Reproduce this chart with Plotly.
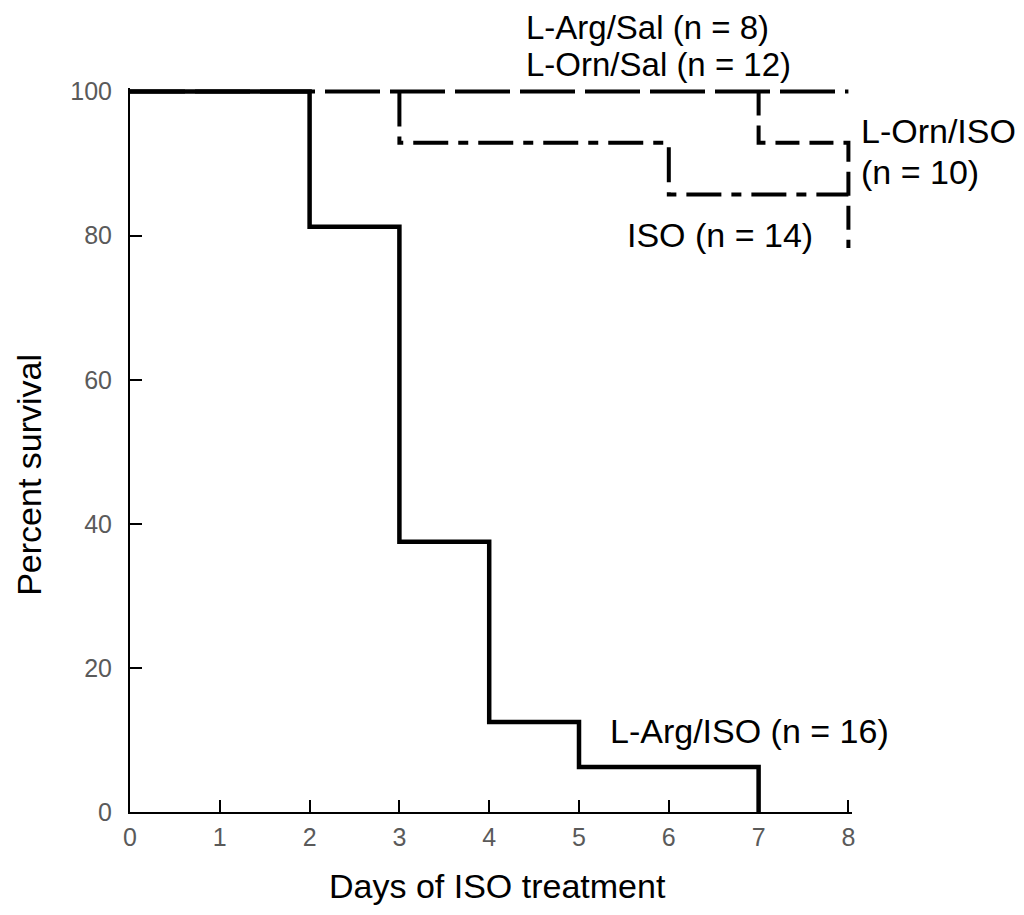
import plotly.graph_objects as go

# Kaplan-Meier style survival data (days, percent survival after each event)
days_arg_iso = [0, 2, 3, 4, 5, 7]
surv_arg_iso = [100, 81.25, 37.5, 12.5, 6.25, 0]

days_sal = [0, 8]
surv_sal = [100, 100]

days_iso = [0, 3, 6, 8]
surv_iso = [100, 92.9, 85.7, 85.7]

days_orn_iso = [0, 7, 8, 8]
surv_orn_iso = [100, 92.9, 92.9, 78.3]

x_ticks = [0, 1, 2, 3, 4, 5, 6, 7, 8]
y_ticks = [0, 20, 40, 60, 80, 100]

FONT = "Liberation Sans, Arial, Helvetica, sans-serif"
X_RANGE = [0, 8.04]
Y_RANGE = [0, 100.5]


def from_first_drop(days, surv):
    # start the drawn path where the curve first leaves 100 %
    return [days[1]] + days[1:], [surv[0]] + surv[1:]


def xp(x):
    return (x - X_RANGE[0]) / (X_RANGE[1] - X_RANGE[0])


def yp(y):
    return (y - Y_RANGE[0]) / (Y_RANGE[1] - Y_RANGE[0])


fig = go.Figure()

fig.add_trace(go.Scatter(x=days_sal, y=surv_sal, mode="lines", line_shape="hv",
                         line=dict(color="black", width=4, dash="55px,10px"),
                         showlegend=False))

xo, yo = from_first_drop(days_orn_iso, surv_orn_iso)
fig.add_trace(go.Scatter(x=xo, y=yo, mode="lines", line_shape="hv",
                         line=dict(color="black", width=4, dash="24px,10px"),
                         showlegend=False))

xi, yi = from_first_drop(days_iso, surv_iso)
fig.add_trace(go.Scatter(x=xi, y=yi, mode="lines", line_shape="hv",
                         line=dict(color="black", width=4, dash="35px,10px,10px,10px"),
                         showlegend=False))

fig.add_trace(go.Scatter(x=days_arg_iso, y=surv_arg_iso, mode="lines", line_shape="hv",
                         line=dict(color="black", width=4.5),
                         showlegend=False))

ann_font = dict(family=FONT, size=34, color="black")
top_font = dict(family=FONT, size=33, color="black")
labels = [
    (4.40, 108.9, "L-Arg/Sal (n = 8)", top_font),
    (4.40, 103.7, "L-Orn/Sal (n = 12)", top_font),
    (8.13, 94.6, "L-Orn/ISO", ann_font),
    (8.13, 88.9, "(n = 10)", ann_font),
    (5.52, 80.1, "ISO (n = 14)", ann_font),
    (5.33, 11.25, "L-Arg/ISO (n = 16)", ann_font),
]
annotations = [
    dict(x=xp(x), y=yp(y), text=t, xref="paper", yref="paper", xanchor="left",
         yanchor="middle", showarrow=False, font=f, borderpad=0)
    for x, y, t, f in labels
]
annotations.append(dict(x=-0.141, y=0.466, xref="paper", yref="paper", text="Percent survival",
                        textangle=-90, showarrow=False, xanchor="center", yanchor="middle",
                        font=ann_font))
annotations.append(dict(x=0.509, y=-0.102, xref="paper", yref="paper", text="Days of ISO treatment",
                        showarrow=False, xanchor="center", yanchor="middle", font=ann_font))

axis_common = dict(
    showgrid=False, zeroline=False, showline=True, linecolor="black", linewidth=2,
    ticks="inside", ticklen=12, tickwidth=2, tickcolor="black", automargin=False,
    tickfont=dict(family=FONT, size=25, color="#5a5a5a"),
)

fig.update_layout(
    width=1024, height=915,
    paper_bgcolor="white", plot_bgcolor="white",
    margin=dict(l=122, r=180, t=80, b=111),
    xaxis=dict(range=X_RANGE, tickvals=x_ticks, ticklabelstandoff=2, **axis_common),
    yaxis=dict(range=Y_RANGE, tickvals=y_ticks, ticklabelstandoff=11, **axis_common),
    annotations=annotations,
)

fig.write_html("out.html")
